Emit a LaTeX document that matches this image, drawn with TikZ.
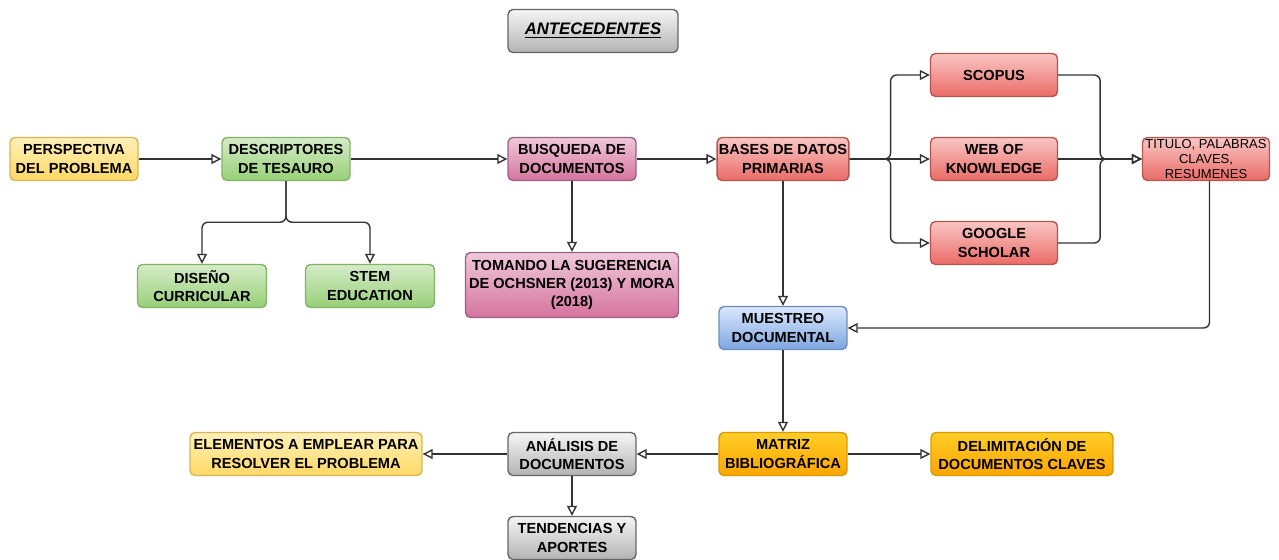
\documentclass[tikz,border=0pt]{standalone}
\usepackage{fontspec}
\setmainfont{Liberation Sans}
\usetikzlibrary{positioning, arrows.meta}

\definecolor{ylwTop}{HTML}{FFF0B8}
\definecolor{ylwBot}{HTML}{FFD966}
\definecolor{ylwLine}{HTML}{D6B656}
\definecolor{grnTop}{HTML}{D5EBC8}
\definecolor{grnBot}{HTML}{97D077}
\definecolor{grnLine}{HTML}{82B366}
\definecolor{pnkTop}{HTML}{F0C8DA}
\definecolor{pnkBot}{HTML}{D5739D}
\definecolor{pnkLine}{HTML}{996185}
\definecolor{redTop}{HTML}{F9C6C4}
\definecolor{redBot}{HTML}{EA6B66}
\definecolor{redLine}{HTML}{B85450}
\definecolor{bluTop}{HTML}{DAE8FC}
\definecolor{bluBot}{HTML}{7EA6E0}
\definecolor{bluLine}{HTML}{6C8EBF}
\definecolor{orgTop}{HTML}{FFCD28}
\definecolor{orgBot}{HTML}{FFA500}
\definecolor{orgLine}{HTML}{D79B00}
\definecolor{gryTop}{HTML}{F5F5F5}
\definecolor{gryBot}{HTML}{B3B3B3}
\definecolor{gryLine}{HTML}{666666}
\definecolor{wire}{HTML}{333333}

\begin{document}
\begin{tikzpicture}[
    x=0.02cm, y=-0.02cm,
    box/.style={rectangle, rounded corners=1mm, line width=0.8pt, minimum width=2.56cm,
                minimum height=0.86cm, align=center, inner sep=1pt,
                font=\fontsize{8.3}{10.4}\selectfont\bfseries},
    yellowbox/.style={box, draw=ylwLine, top color=ylwTop, bottom color=ylwBot},
    greenbox/.style={box, draw=grnLine, top color=grnTop, bottom color=grnBot},
    pinkbox/.style={box, draw=pnkLine, top color=pnkTop, bottom color=pnkBot},
    redbox/.style={box, draw=redLine, top color=redTop, bottom color=redBot},
    bluebox/.style={box, draw=bluLine, top color=bluTop, bottom color=bluBot},
    orangebox/.style={box, draw=orgLine, top color=orgTop, bottom color=orgBot},
    greybox/.style={box, draw=gryLine, top color=gryTop, bottom color=gryBot},
    arrow/.style={-{Triangle[open, length=2mm, width=2mm]}, line width=0.8pt, draw=wire},
    wire/.style={line width=0.8pt, draw=wire, rounded corners=1.2mm}
]
    \useasboundingbox (0,0) rectangle (1279,559);

    % Title
    \node[greybox, minimum width=3.4cm, font=\fontsize{9.5}{11}\selectfont\bfseries\itshape]
        (title) at (593,31) {\underline{ANTECEDENTES}};

    % First row
    \node[yellowbox] (persp) at (74,159) {PERSPECTIVA\\DEL PROBLEMA};
    \node[greenbox] (desc) at (286,159) {DESCRIPTORES\\DE TESAURO};
    \node[pinkbox] (busq) at (572,159) {BUSQUEDA DE\\DOCUMENTOS};
    \node[redbox] (bases) at (783,159) {BASES DE DATOS\\PRIMARIAS};

    % Descriptors
    \node[greenbox, minimum width=2.58cm] (disen) at (202,286) {DISEÑO\\CURRICULAR};
    \node[greenbox, minimum width=2.58cm] (stem) at (370,286) {STEM\\EDUCATION};

    % Suggestion
    \node[pinkbox, minimum width=4.26cm, minimum height=1.3cm] (tomando) at (572,285)
        {TOMANDO LA SUGERENCIA\\DE OCHSNER (2013) Y MORA\\(2018)};

    % Databases
    \node[redbox, minimum width=2.54cm] (scopus) at (994,75) {SCOPUS};
    \node[redbox, minimum width=2.54cm] (wok) at (994,159) {WEB OF\\KNOWLEDGE};
    \node[redbox, minimum width=2.54cm] (scholar) at (994,243) {GOOGLE\\SCHOLAR};
    \node[redbox, minimum width=2.54cm, font=\fontsize{7.4}{8.6}\selectfont]
        (titulo) at (1206,159) {TITULO, PALABRAS\\CLAVES,\\RESUMENES};

    % Sampling and matrix
    \node[bluebox] (muestreo) at (783,328) {MUESTREO\\DOCUMENTAL};
    \node[orangebox] (matriz) at (783,454) {MATRIZ\\BIBLIOGRÁFICA};
    \node[orangebox, minimum width=3.64cm] (delim) at (1022,454)
        {DELIMITACIÓN DE\\DOCUMENTOS CLAVES};

    % Analysis
    \node[greybox] (analisis) at (572,454) {ANÁLISIS DE\\DOCUMENTOS};
    \node[yellowbox, minimum width=4.64cm] (elem) at (306,454)
        {ELEMENTOS A EMPLEAR PARA\\RESOLVER EL PROBLEMA};
    \node[greybox] (tend) at (572,538) {TENDENCIAS Y\\APORTES};

    % Arrows
    \draw[arrow] (persp) -- (desc);
    \draw[arrow] (desc) -- (busq);
    \draw[arrow] (busq) -- (bases);
    \draw[arrow] (busq.south) -- (tomando.north);
    \draw[arrow, wire] (desc.south) -- ++(0,41) -| (disen.north);
    \draw[arrow, wire] (desc.south) -- ++(0,41) -| (stem.north);

    % Databases split
    \draw[arrow, wire] (bases.east) -- ++(41,0) |- (scopus.west);
    \draw[arrow] (bases.east) -- (wok.west);
    \draw[arrow, wire] (bases.east) -- ++(41,0) |- (scholar.west);
    \draw[arrow, wire] (scopus.east) -- ++(42,0) |- (titulo.west);
    \draw[arrow] (wok.east) -- (titulo.west);
    \draw[arrow, wire] (scholar.east) -- ++(42,0) |- (titulo.west);

    % Sampling
    \draw[arrow] (bases.south) -- (muestreo.north);
    \draw[arrow, wire] ([xshift=2]titulo.south) |- (muestreo.east);
    \draw[arrow] (muestreo) -- (matriz);
    \draw[arrow] (matriz) -- (delim);
    \draw[arrow] (matriz) -- (analisis);
    \draw[arrow] (analisis) -- (elem);
    \draw[arrow] (analisis) -- (tend);

\end{tikzpicture}
\end{document}
